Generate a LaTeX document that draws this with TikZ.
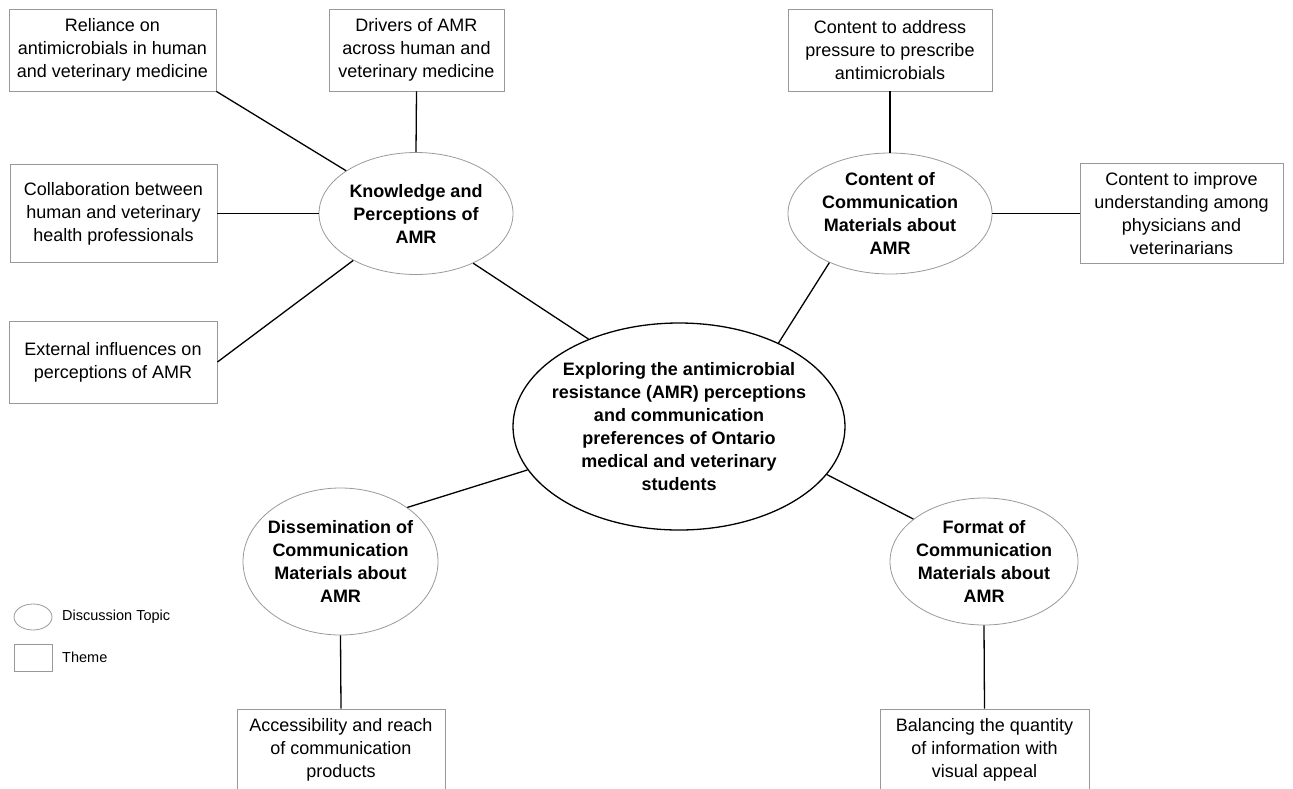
\documentclass[tikz,border=0pt]{standalone}
\usepackage{fontspec}
\setmainfont{Liberation Sans}
\usetikzlibrary{shapes.geometric}
\begin{document}
\begin{tikzpicture}[x=1pt,y=-1pt,
  theme/.style={draw=gray!80, line width=0.8pt, inner sep=0pt, align=center,
    font=\fontsize{18}{23}\selectfont},
  topic/.style={ellipse, draw=gray!80, line width=0.8pt, inner sep=0pt},
  topictext/.style={align=center, inner sep=0pt, font=\fontsize{18}{23}\selectfont\bfseries},
  link/.style={line width=1.3pt, black},
  legtext/.style={anchor=west, inner sep=0pt, font=\fontsize{14.5}{17}\selectfont}]
\useasboundingbox (0,0) rectangle (1293,788);

% themes
\node[theme, minimum width=207pt, minimum height=82pt] (rel) at (112.5,50)
  {Reliance on\\antimicrobials in human\\and veterinary medicine};
\node[theme, minimum width=175pt, minimum height=82pt] (drv) at (416.5,50)
  {Drivers of AMR\\across human and\\veterinary medicine};
\node[theme, minimum width=207pt, minimum height=98pt] (collab) at (113.5,213.5)
  {Collaboration between\\human and veterinary\\health professionals};
\node[theme, minimum width=208pt, minimum height=82pt] (ext) at (113,362)
  {External influences on\\perceptions of AMR};
\node[theme, minimum width=204pt, minimum height=82pt] (addr) at (890,50)
  {Content to address\\pressure to prescribe\\antimicrobials};
\node[theme, minimum width=203pt, minimum height=100pt] (impr) at (1181.5,213.5)
  {Content to improve\\understanding among\\physicians and\\veterinarians};
\node[theme, minimum width=208pt, minimum height=82pt] (acc) at (341,750)
  {Accessibility and reach\\of communication\\products};
\node[theme, minimum width=209pt, minimum height=82pt] (bal) at (984.5,750)
  {Balancing the quantity\\of information with\\visual appeal};

% topics
\node[topic, minimum width=194pt, minimum height=122pt] (know) at (416,213.5) {};
\node[topictext] (knowt) at (know) {Knowledge and\\Perceptions of\\AMR};
\node[topic, minimum width=204pt, minimum height=121pt] (cont) at (890,213.5) {};
\node[topictext] (contt) at (cont) {Content of\\Communication\\Materials about\\AMR};
\node[topic, minimum width=195pt, minimum height=147pt] (diss) at (340.5,561.5) {};
\node[topictext] (disst) at (diss) {Dissemination of\\Communication\\Materials about\\AMR};
\node[topic, minimum width=188pt, minimum height=127pt] (fmt) at (984,561.5) {};
\node[topictext] (fmtt) at (fmt) {Format of\\Communication\\Materials about\\AMR};

% central
\node[ellipse, draw=black, line width=1.3pt, inner sep=0pt,
  minimum width=332pt, minimum height=207pt] (ctr) at (679,426.5) {};
\node[topictext] (ctrt) at (ctr) {Exploring the antimicrobial\\resistance (AMR) perceptions\\and communication\\preferences of Ontario\\medical and veterinary\\students};

% legend
\node[topic, minimum width=38pt, minimum height=26pt] (lege) at (33,617) {};
\node[legtext] (leget) at (62,617) {Discussion Topic};
\node[draw=gray!80, line width=0.8pt, inner sep=0pt, minimum width=38pt, minimum height=27pt] (legb) at (33,657.5) {};
\node[legtext] (legbt) at (62,657.5) {Theme};

% connectors
\draw[link] (rel.south east) -- (know);
\draw[link] (drv.south) -- (know.north);
\draw[link] (collab.east) -- (know.west);
\draw[link] (ext.east) -- (know);
\draw[link] (know.-41) -- (ctr.136);
\draw[link] (addr.south) -- (cont.north);
\draw[link] (cont.east) -- (impr.west);
\draw[link] (cont.-141) -- (ctr.40.6);
\draw[link] (diss.39) -- (ctr.-164);
\draw[link] (ctr.-18) -- (fmt.149);
\draw[link] (diss.south) -- (acc.north);
\draw[link] (fmt.south) -- (bal.north);
\end{tikzpicture}
\end{document}
